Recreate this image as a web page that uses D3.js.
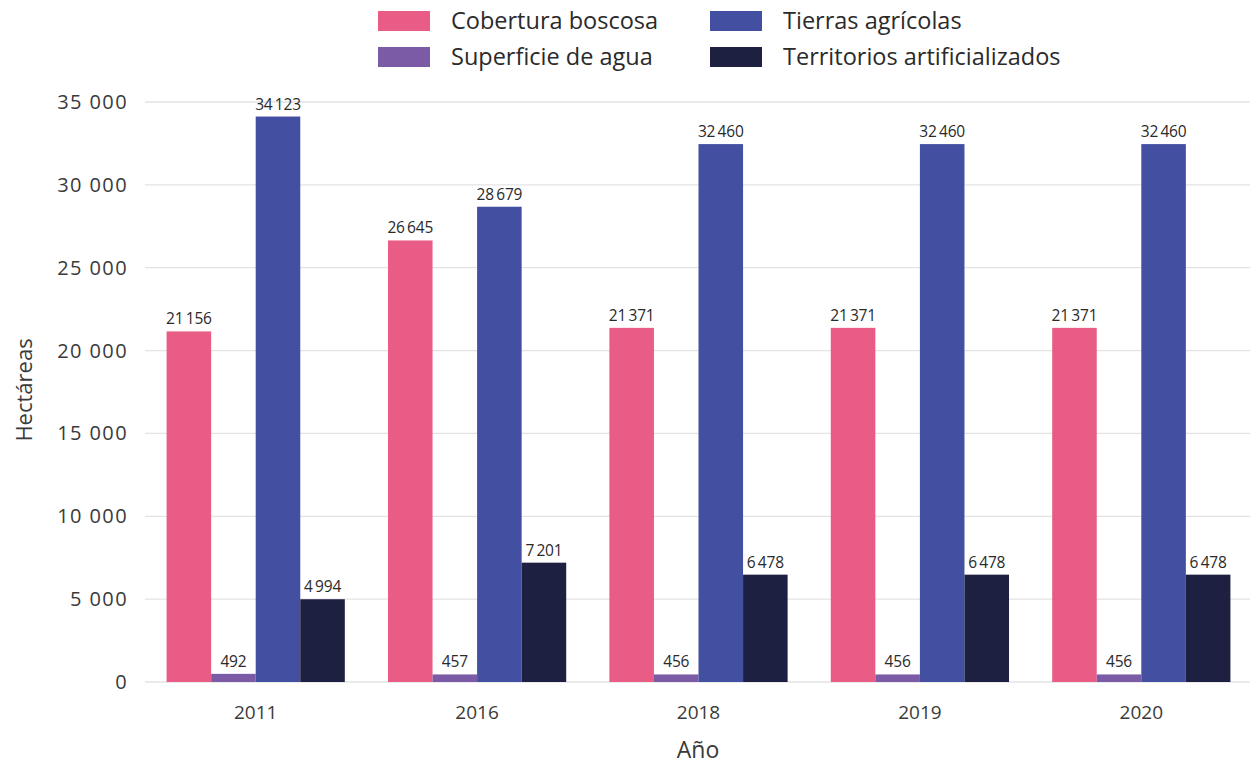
<!DOCTYPE html>
<html><head><meta charset="utf-8">
<script src="https://cdn.jsdelivr.net/npm/d3@7"></script>
<style>body{margin:0;background:#fff;} text{font-family:"Open Sans",sans-serif;}</style>
</head><body>
<svg id="c" width="1250" height="766"></svg>
<script>
const years = ["2011","2016","2018","2019","2020"];
const seriesNames = ["Cobertura boscosa","Superficie de agua","Tierras agrícolas","Territorios artificializados"];
const cobertura = [21156, 26645, 21371, 21371, 21371];
const agua = [492, 457, 456, 456, 456];
const agricolas = [34123, 28679, 32460, 32460, 32460];
const artificial = [4994, 7201, 6478, 6478, 6478];
const yTicks = [0, 5000, 10000, 15000, 20000, 25000, 30000, 35000];
const colors = ["#E85C85", "#7B5AA6", "#434FA0", "#1E2042"];

(function () {
const seriesValues = [cobertura, agua, agricolas, artificial];
const svg = d3.select("#c");
const loc = d3.formatLocale({decimal: ",", thousands: "\u2009", grouping: [3], currency: ["", ""]});
const fmt = loc.format(",d");
const fmtTick = v => loc.format(",d")(v).replace("\u2009", " ");

const pLeft = 145, pRight = 1252, pTop = 102, pBottom = 682;
const x = d3.scaleBand().domain(years).range([pLeft, pRight]).paddingInner(0.195).paddingOuter(0.0975);
const xs = d3.scaleBand().domain(seriesNames).range([0, x.bandwidth()]);
const y = d3.scaleLinear().domain([0, 35000]).range([pBottom, pTop]);

svg.append("g").selectAll("line").data(yTicks).join("line")
  .attr("x1", pLeft).attr("x2", 1250)
  .attr("y1", d => y(d)).attr("y2", d => y(d))
  .attr("stroke", "#e3e3e6").attr("stroke-width", 1.3);

svg.append("g").selectAll("text").data(yTicks).join("text")
  .attr("x", 128).attr("y", d => y(d)).attr("dy", "0.35em")
  .attr("text-anchor", "end").attr("font-size", 20).attr("letter-spacing", "1.4")
  .attr("fill", "#3a3a3a")
  .text(d => fmtTick(d));

svg.append("g").selectAll("text").data(years).join("text")
  .attr("x", d => x(d) + x.bandwidth() / 2).attr("y", 712).attr("dy", "0.35em")
  .attr("text-anchor", "middle").attr("font-size", 19).attr("fill", "#3a3a3a")
  .text(d => d);

const data = [];
years.forEach((yr, i) => seriesNames.forEach((s, j) => data.push({yr, s, j, v: seriesValues[j][i]})));
svg.append("g").selectAll("rect").data(data).join("rect")
  .attr("x", d => x(d.yr) + xs(d.s)).attr("width", xs.bandwidth())
  .attr("y", d => y(d.v)).attr("height", d => y(0) - y(d.v))
  .attr("fill", d => colors[d.j]);

svg.append("g").selectAll("text").data(data).join("text")
  .attr("x", d => x(d.yr) + xs(d.s) + xs.bandwidth() / 2).attr("y", d => y(d.v) - 7)
  .attr("text-anchor", "middle").attr("font-size", 15.5).attr("fill", "#2a2a2a")
  .attr("letter-spacing", "-0.2")
  .text(d => fmt(d.v));

svg.append("text").attr("x", 698).attr("y", 750).attr("dy", "0.35em")
  .attr("text-anchor", "middle").attr("font-size", 23).attr("fill", "#3a3a3a").text("Año");
svg.append("text").attr("transform", "translate(24,390) rotate(-90)").attr("dy", "0.35em")
  .attr("text-anchor", "middle").attr("font-size", 22).attr("fill", "#3a3a3a").text("Hectáreas");

const legPos = [[378, 21], [378, 57], [710, 21], [710, 57]];
const leg = svg.append("g").selectAll("g").data(seriesNames).join("g")
  .attr("transform", (d, i) => `translate(${legPos[i][0]},${legPos[i][1]})`);
leg.append("rect").attr("x", 0).attr("y", -10).attr("width", 52).attr("height", 20)
  .attr("fill", (d, i) => colors[i]);
leg.append("text").attr("x", 73).attr("y", 0).attr("dy", "0.35em")
  .attr("font-size", 23.5).attr("fill", "#2a2a2a").text(d => d);
})();
</script>
</body></html>
